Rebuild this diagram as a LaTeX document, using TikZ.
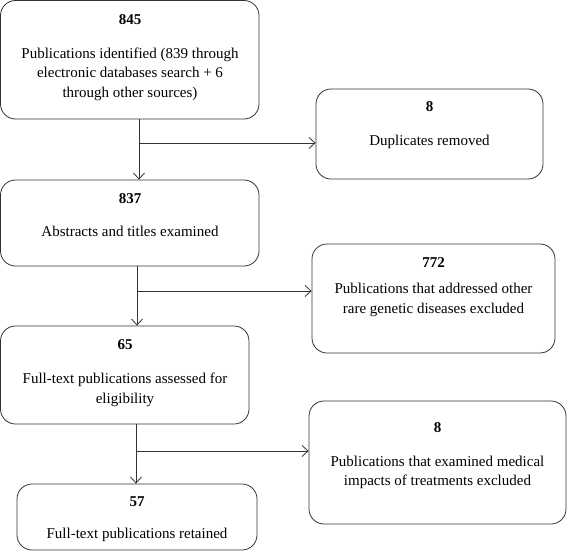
\documentclass[tikz,border=0pt]{standalone}
\usepackage{fontspec}
\setmainfont{Liberation Serif}
\usetikzlibrary{arrows.meta}
\tikzset{
  box/.style={draw=black!80, line width=0.8pt, rounded corners=15pt, inner sep=0pt},
  numtxt/.style={font=\fontsize{15}{19.5}\selectfont\bfseries, inner sep=0pt},
  bodytxt/.style={font=\fontsize{15}{19.5}\selectfont, align=center, inner sep=0pt},
  arr/.style={draw=black!80, line width=0.8pt, -{Straight Barb[length=6pt,width=11pt]}}
}
\begin{document}
\begin{tikzpicture}[x=1pt,y=-1pt]
\useasboundingbox (0,0) rectangle (567,551);
% boxes
\node[box, minimum width=258.5pt, minimum height=118.5pt] (b1) at (129.75,59.75) {};
\node[box, minimum width=258.5pt, minimum height=86pt] (b2) at (129.75,223) {};
\node[box, minimum width=227pt, minimum height=90pt] (b3) at (429.5,134) {};
\node[box, minimum width=243pt, minimum height=109pt] (b4) at (433.5,298.5) {};
\node[box, minimum width=248.5pt, minimum height=98pt] (b5) at (124.75,375) {};
\node[box, minimum width=257pt, minimum height=123pt] (b6) at (437.5,462.5) {};
\node[box, minimum width=240pt, minimum height=66pt] (b7) at (137,517) {};
% texts
\node[numtxt] (n1) at (130,20) {845};
\node[bodytxt] (t1) at (130,74) {Publications identified (839 through\\electronic databases search + 6\\through other sources)};
\node[numtxt] (n2) at (130,199) {837};
\node[bodytxt] (t2) at (130,231) {Abstracts and titles examined};
\node[numtxt] (n3) at (429.5,107) {8};
\node[bodytxt] (t3) at (429.5,142) {Duplicates removed};
\node[numtxt] (n4) at (433.5,263) {772};
\node[bodytxt] (t4) at (433.5,300) {Publications that addressed other\\rare genetic diseases excluded};
\node[numtxt] (n5) at (125,345) {65};
\node[bodytxt] (t5) at (125,390) {Full-text publications assessed for\\eligibility};
\node[numtxt] (n6) at (437.5,428) {8};
\node[bodytxt] (t6) at (437.5,472.5) {Publications that examined medical\\impacts of treatments excluded};
\node[numtxt] (n7) at (137,502) {57};
\node[bodytxt] (t7) at (137,535) {Full-text publications retained};
% junctions
\coordinate (j1) at (139,143);
\coordinate (j2) at (137,291);
\coordinate (j3) at (136,451);
% connectors
\draw[arr] (b1.south -| j1) -- (b2.north -| j1);
\draw[arr] (j1) -- (j1 -| b3.west);
\draw[arr] (b2.south -| j2) -- (b5.north -| j2);
\draw[arr] (j2) -- (j2 -| b4.west);
\draw[arr] (b5.south -| j3) -- (b7.north -| j3);
\draw[arr] (j3) -- (j3 -| b6.west);
\end{tikzpicture}
\end{document}
